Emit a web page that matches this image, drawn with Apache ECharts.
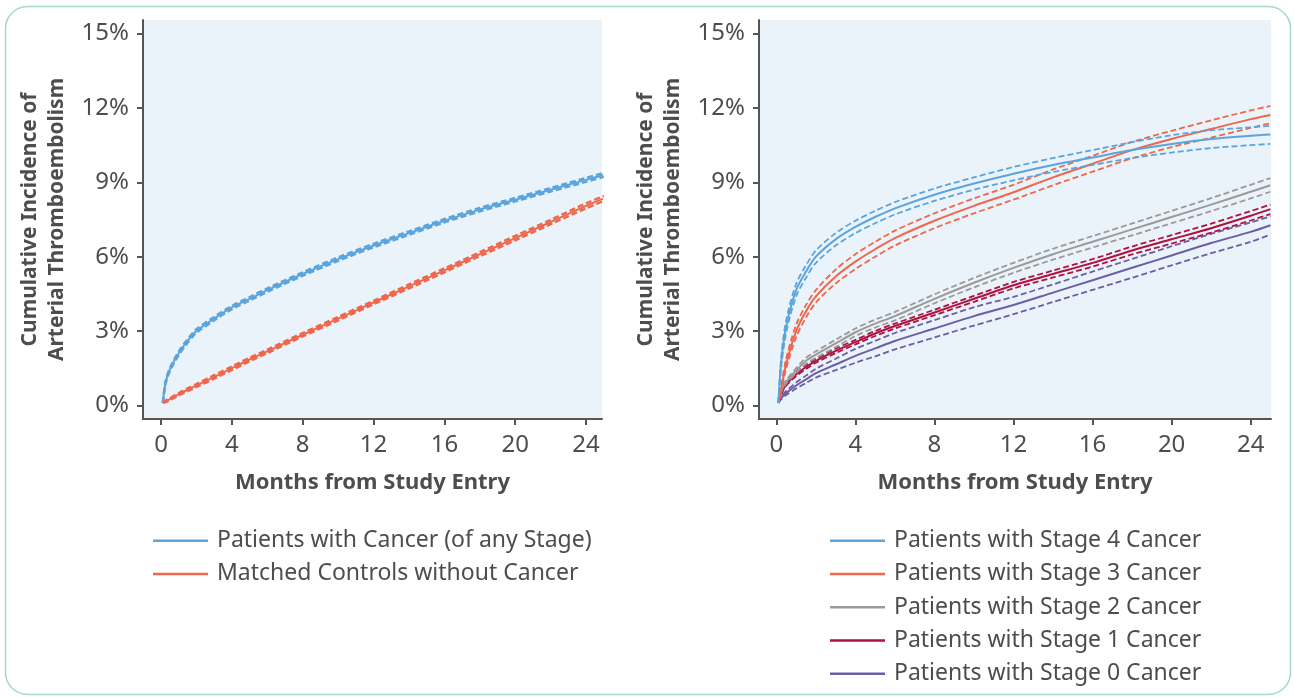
<!DOCTYPE html>
<head>
    <meta charset="utf-8"/>
    <style>
        html,body { height:100%; width:100%; margin:0; padding:0; background:#fff; }
    </style>
</head>
<body>
<div id="main" style="width:1294px;height:697px"></div>
<script src="https://cdn.jsdelivr.net/npm/echarts@6/dist/echarts.min.js"></script>
<script type="text/javascript">
 // months from study entry (shared by every curve)
 var months = [0.1, 0.25, 0.5, 1, 1.5, 2, 3, 4, 5, 6, 8, 10, 12, 14, 16, 18, 20, 22, 24, 25];

 // left panel: any stage vs matched controls
 var anyCancer   = [0.1, 0.9, 1.45, 2.1, 2.6, 3.0, 3.5, 3.95, 4.3, 4.65, 5.3, 5.9, 6.45, 6.95, 7.45, 7.9, 8.3, 8.7, 9.1, 9.3];
 var anyCancerLo = [0.1, 0.85, 1.39, 2.03, 2.53, 2.93, 3.43, 3.88, 4.23, 4.58, 5.23, 5.83, 6.38, 6.88, 7.38, 7.83, 8.23, 8.63, 9.02, 9.22];
 var anyCancerHi = [0.1, 0.95, 1.51, 2.17, 2.67, 3.07, 3.57, 4.02, 4.37, 4.72, 5.37, 5.97, 6.52, 7.02, 7.52, 7.97, 8.37, 8.77, 9.18, 9.38];
 var controls    = [0.1, 0.16, 0.25, 0.45, 0.63, 0.8, 1.15, 1.5, 1.85, 2.18, 2.85, 3.5, 4.15, 4.8, 5.45, 6.1, 6.75, 7.4, 8.05, 8.35];
 var controlsLo  = [0.1, 0.13, 0.21, 0.4, 0.57, 0.74, 1.08, 1.43, 1.78, 2.11, 2.78, 3.43, 4.08, 4.72, 5.37, 6.02, 6.66, 7.31, 7.95, 8.25];
 var controlsHi  = [0.1, 0.19, 0.29, 0.5, 0.69, 0.86, 1.22, 1.57, 1.92, 2.25, 2.92, 3.57, 4.22, 4.88, 5.53, 6.18, 6.84, 7.49, 8.15, 8.45];

 // right panel: by stage
 var stage4   = [0.1, 1.8, 3.2, 4.65, 5.4, 6.0, 6.7, 7.2, 7.6, 7.95, 8.5, 8.95, 9.35, 9.7, 10.0, 10.3, 10.55, 10.75, 10.88, 10.93];
 var stage4Lo = [0.1, 1.6, 2.95, 4.4, 5.15, 5.75, 6.45, 6.95, 7.35, 7.7, 8.25, 8.7, 9.08, 9.42, 9.7, 9.98, 10.2, 10.38, 10.5, 10.55];
 var stage4Hi = [0.1, 2.0, 3.45, 4.9, 5.65, 6.25, 6.95, 7.45, 7.85, 8.2, 8.75, 9.2, 9.62, 9.98, 10.3, 10.62, 10.9, 11.1, 11.22, 11.28];
 var stage3   = [0.1, 0.7, 1.7, 3.0, 3.8, 4.4, 5.2, 5.8, 6.3, 6.75, 7.45, 8.05, 8.6, 9.2, 9.75, 10.3, 10.75, 11.15, 11.55, 11.72];
 var stage3Lo = [0.1, 0.6, 1.5, 2.75, 3.55, 4.15, 4.92, 5.5, 6.0, 6.45, 7.15, 7.75, 8.3, 8.88, 9.43, 9.97, 10.42, 10.8, 11.2, 11.38];
 var stage3Hi = [0.1, 0.8, 1.9, 3.25, 4.05, 4.65, 5.48, 6.1, 6.6, 7.05, 7.75, 8.35, 8.9, 9.52, 10.07, 10.63, 11.08, 11.5, 11.9, 12.08];
 var stage2   = [0.1, 0.6, 0.95, 1.4, 1.8, 2.05, 2.5, 2.95, 3.3, 3.6, 4.3, 4.95, 5.55, 6.1, 6.6, 7.1, 7.6, 8.1, 8.62, 8.88];
 var stage2Lo = [0.1, 0.55, 0.88, 1.3, 1.68, 1.92, 2.35, 2.8, 3.14, 3.43, 4.12, 4.76, 5.35, 5.88, 6.37, 6.86, 7.35, 7.84, 8.35, 8.62];
 var stage2Hi = [0.1, 0.65, 1.02, 1.5, 1.92, 2.18, 2.65, 3.1, 3.46, 3.77, 4.48, 5.14, 5.75, 6.32, 6.83, 7.34, 7.85, 8.36, 8.9, 9.17];
 var stage1   = [0.1, 0.5, 0.85, 1.25, 1.55, 1.8, 2.2, 2.55, 2.9, 3.2, 3.75, 4.3, 4.85, 5.3, 5.75, 6.25, 6.7, 7.15, 7.65, 7.92];
 var stage1Lo = [0.1, 0.46, 0.8, 1.18, 1.47, 1.72, 2.11, 2.46, 2.8, 3.1, 3.64, 4.18, 4.72, 5.16, 5.6, 6.09, 6.53, 6.97, 7.46, 7.72];
 var stage1Hi = [0.1, 0.54, 0.9, 1.32, 1.63, 1.88, 2.29, 2.64, 3.0, 3.3, 3.86, 4.42, 4.98, 5.44, 5.9, 6.41, 6.87, 7.33, 7.84, 8.1];
 var stage0   = [0.1, 0.3, 0.5, 0.8, 1.05, 1.3, 1.65, 2.0, 2.3, 2.6, 3.1, 3.6, 4.05, 4.55, 5.05, 5.55, 6.05, 6.55, 7.0, 7.27];
 var stage0Lo = [0.1, 0.25, 0.42, 0.68, 0.9, 1.12, 1.42, 1.72, 1.98, 2.26, 2.74, 3.22, 3.68, 4.17, 4.66, 5.15, 5.65, 6.14, 6.6, 6.89];
 var stage0Hi = [0.1, 0.35, 0.58, 0.92, 1.2, 1.48, 1.88, 2.28, 2.6, 2.92, 3.44, 3.96, 4.38, 4.88, 5.4, 5.91, 6.42, 6.92, 7.38, 7.63];

 var xTicks = [0, 4, 8, 12, 16, 20, 24];
 var yTicks = [0, 3, 6, 9, 12, 15];

 var leftNames = ['Patients with Cancer (of any Stage)', 'Matched Controls without Cancer'];
 var rightNames = ['Patients with Stage 4 Cancer', 'Patients with Stage 3 Cancer', 'Patients with Stage 2 Cancer',
                   'Patients with Stage 1 Cancer', 'Patients with Stage 0 Cancer'];

 var BLUE = '#5ba4dc', RED = '#f0664b', GRAY = '#9a9a9a', CRIMSON = '#b0123f', PURPLE = '#6b5ea6';
 var TXT = '#4d4d4d', AX = '#555555', FONT = 'Noto Sans';

 function pts(vals){
    return months.map(function(m, i){ return [m, vals[i]]; });
 }

 function line(name, idx, vals, color, dashed){
    return {
        name: name,
        type: 'line',
        xAxisIndex: idx,
        yAxisIndex: idx,
        data: pts(vals),
        smooth: 0.3,
        showSymbol: false,
        clip: true,
        itemStyle: { color: color },
        lineStyle: dashed ? { color: color, width: idx === 0 ? 2.4 : 1.8, type: [6, 3] }
                          : { color: color, width: 2 }
    };
 }

 function xAxis(idx, min, max){
    return {
        type: 'value', gridIndex: idx, min: min, max: max,
        name: 'Months from Study Entry', nameLocation: 'middle', nameGap: 53,
        nameTextStyle: { color: TXT, fontSize: 22, fontWeight: 'bold', fontFamily: FONT },
        axisLine: { show: true, onZero: false, lineStyle: { color: AX, width: 2 } },
        axisTick: { show: true, length: 6, lineStyle: { color: AX, width: 2 }, customValues: xTicks },
        axisLabel: { color: TXT, fontSize: 24, fontFamily: FONT, margin: 14, customValues: xTicks },
        splitLine: { show: false }
    };
 }

 function yAxis(idx){
    return {
        type: 'value', gridIndex: idx, min: -0.55, max: 15.55,
        name: 'Cumulative Incidence of\nArterial Thromboembolism', nameLocation: 'middle', nameGap: 72, nameRotate: 90,
        nameTextStyle: { color: TXT, fontSize: 21, fontWeight: 'bold', fontFamily: FONT, lineHeight: 27 },
        axisLine: { show: true, onZero: false, lineStyle: { color: AX, width: 2 } },
        axisTick: { show: true, length: 6, lineStyle: { color: AX, width: 2 }, customValues: yTicks },
        axisLabel: { color: TXT, fontSize: 24, fontFamily: FONT, margin: 14, customValues: yTicks,
                     formatter: function(v){ return v + '%'; } },
        splitLine: { show: false }
    };
 }

 function legend(left, names){
    return {
        orient: 'vertical', left: left, top: 528, padding: 0,
        selectedMode: false, icon: 'rect', itemWidth: 55, itemHeight: 2.5, itemGap: 8,
        textStyle: { color: TXT, fontSize: 23, fontFamily: FONT, lineHeight: 25.3, padding: [0, 0, 0, 4] },
        data: names
    };
 }

 var series = [
    line(leftNames[0] + ' lo', 0, anyCancerLo, BLUE, true),
    line(leftNames[0] + ' hi', 0, anyCancerHi, BLUE, true),
    line(leftNames[0], 0, anyCancer, BLUE, false),
    line(leftNames[1] + ' lo', 0, controlsLo, RED, true),
    line(leftNames[1] + ' hi', 0, controlsHi, RED, true),
    line(leftNames[1], 0, controls, RED, false)
 ];
 var stages = [[stage0, stage0Lo, stage0Hi, PURPLE], [stage1, stage1Lo, stage1Hi, CRIMSON],
               [stage2, stage2Lo, stage2Hi, GRAY], [stage3, stage3Lo, stage3Hi, RED], [stage4, stage4Lo, stage4Hi, BLUE]];
 stages.forEach(function(s, i){
    var nm = rightNames[4 - i];
    series.push(line(nm + ' lo', 1, s[1], s[3], true));
    series.push(line(nm + ' hi', 1, s[2], s[3], true));
    series.push(line(nm, 1, s[0], s[3], false));
 });

 var chart = echarts.init(document.getElementById('main'));
 chart.setOption({
    animation: false,
    backgroundColor: '#ffffff',
    textStyle: { fontFamily: FONT },
    graphic: [{
        type: 'rect', silent: true, z: -1,
        shape: { x: 5.5, y: 6.5, width: 1285, height: 688, r: 22 },
        style: { fill: 'none', stroke: '#a6d8c6', lineWidth: 1.5 }
    }],
    grid: [
        { left: 143, right: 692, top: 20, bottom: 278, show: true, backgroundColor: '#eaf2fa', borderWidth: 0 },
        { left: 759, right: 23, top: 20, bottom: 278, show: true, backgroundColor: '#eaf2fa', borderWidth: 0 }
    ],
    xAxis: [xAxis(0, -1.02, 24.9), xAxis(1, -0.88, 25.03)],
    yAxis: [yAxis(0), yAxis(1)],
    legend: [legend(153, leftNames), legend(830, rightNames)],
    series: series
 });
</script>
</body>
